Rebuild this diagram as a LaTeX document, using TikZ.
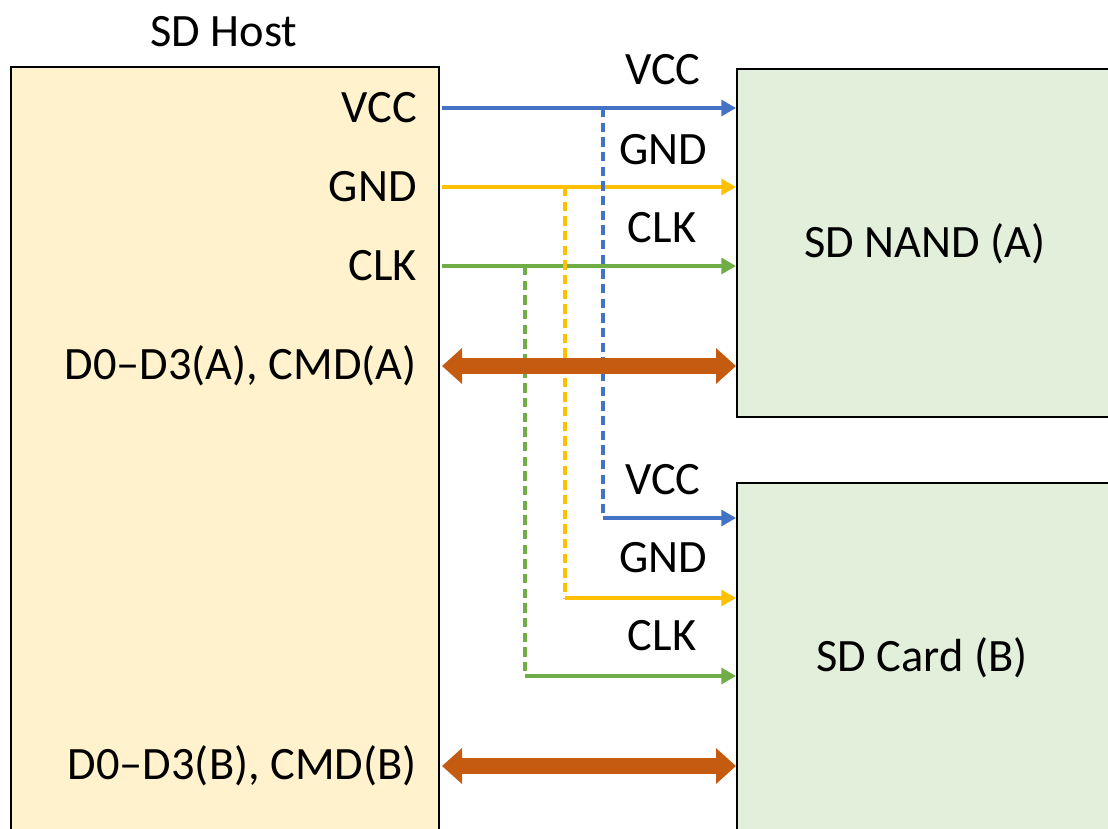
\documentclass[tikz,border=0pt]{standalone}
\usepackage{fontspec}
\setmainfont{Carlito}
\usetikzlibrary{arrows.meta}
\definecolor{hostFill}{HTML}{FFF2CC}
\definecolor{devFill}{HTML}{E2EFDA}
\definecolor{sigBlue}{HTML}{4472C4}
\definecolor{sigGold}{HTML}{FFC000}
\definecolor{sigGreen}{HTML}{70AD47}
\definecolor{busOrange}{HTML}{C55A11}

\begin{document}
\begin{tikzpicture}[
  x=0.75pt, y=-0.75pt,
  every node/.style={font=\fontsize{34.8}{40}\selectfont, inner sep=0pt},
  block/.style={draw=black, line width=1.5pt, anchor=north west, minimum width=#1},
  sig/.style={line width=2.3pt, -{Triangle[length=11pt, width=12pt]}},
  tap/.style={line width=2.3pt, dash pattern=on 7pt off 4pt},
  bus/.style={line width=12pt, busOrange,
    {Triangle[length=15pt, width=26pt]}-{Triangle[length=15pt, width=26pt]}},
]
\useasboundingbox (0,0) rectangle (1108,829);
\clip (0,0) rectangle (1108,829);

% Blocks
\node[block=321pt, minimum height=585pt, fill=hostFill] (host) at (10,66) {};
\node[block=290pt, minimum height=261pt, fill=devFill] (nand) at (736,68) {};
\node[block=290pt, minimum height=280pt, fill=devFill] (card) at (736,482) {};

\node (hostT) at (224,32) {SD Host};
\node (nandT) at (925,244) {SD NAND (A)};
\node (cardT) at (922,658) {SD Card (B)};

% Host side pin names
\node[anchor=east] (vcc) at (417,108) {VCC};
\node[anchor=east] (gnd) at (417,187) {GND};
\node[anchor=east] (clk) at (417,266) {CLK};
\node[anchor=east] (datA) at (417,366) {D0--D3(A), CMD(A)};
\node[anchor=east] (datB) at (417,766) {D0--D3(B), CMD(B)};

% Device side pin names
\node (vccA) at (663,70) {VCC};
\node (gndA) at (663,150) {GND};
\node (clkA) at (662,228) {CLK};
\node (vccB) at (663,480) {VCC};
\node (gndB) at (663,558) {GND};
\node (clkB) at (662,636) {CLK};

% Branch points of the shared lines
\coordinate (vccT) at (603,108);
\coordinate (gndT) at (565,187);
\coordinate (clkT) at (525,266);
\coordinate (vccE) at (603,518);
\coordinate (gndE) at (565,598);
\coordinate (clkE) at (525,676);

% Shared signals to SD NAND
\draw[sig, sigBlue] (vcc -| host.east) ++(2,0) -- (vcc -| nand.west);
\draw[sig, sigGold] (gnd -| host.east) ++(2,0) -- (gnd -| nand.west);
\draw[sig, sigGreen] (clk -| host.east) ++(2,0) -- (clk -| nand.west);

% Taps down to SD card
\draw[tap, sigBlue] (vccT) -- (vccE);
\draw[tap, sigGold] (gndT) -- (gndE);
\draw[tap, sigGreen] (clkT) -- (clkE);
\draw[sig, sigBlue] (vccE) -- (vccE -| card.west);
\draw[sig, sigGold] (gndE) -- (gndE -| card.west);
\draw[sig, sigGreen] (clkE) -- (clkE -| card.west);

% Data buses
\draw[bus] (datA -| host.east) ++(2,0) -- (datA -| nand.west);
\draw[bus] (datB -| host.east) ++(2,0) -- (datB -| card.west);

\end{tikzpicture}
\end{document}
